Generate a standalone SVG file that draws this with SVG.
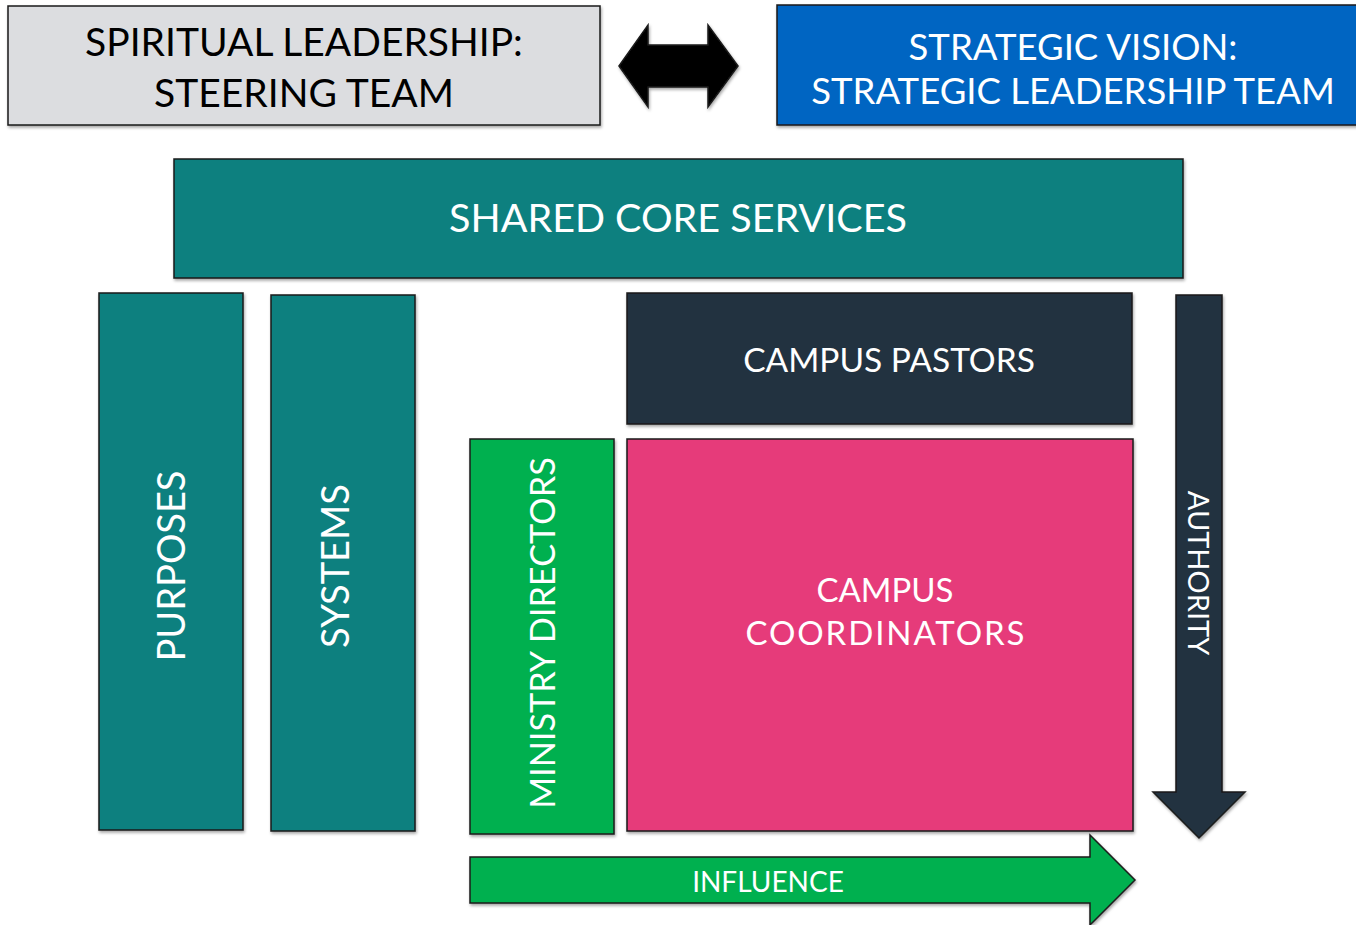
<svg xmlns="http://www.w3.org/2000/svg" width="1356" height="925" viewBox="0 0 1356 925">
<defs>
<filter id="sh" x="-5%" y="-5%" width="110%" height="115%">
<feDropShadow dx="1" dy="2" stdDeviation="1.5" flood-color="#000" flood-opacity="0.35"/>
</filter>
</defs>
<style>
.b{stroke:#1a1a1a;stroke-width:1.5;filter:url(#sh)}
.t{font-family:Lato,"Open Sans",sans-serif;text-anchor:middle;fill:#fff}
.k{fill:#000}
</style>
<rect width="1356" height="925" fill="#fff"/>
<g id="spiritual">
<rect class="b" x="8" y="6" width="592" height="119" fill="#DCDDE0"/>
<text class="t k" x="304" y="56" font-size="39">SPIRITUAL LEADERSHIP:</text>
<text class="t k" x="304" y="107" font-size="39">STEERING TEAM</text>
</g>
<g id="strategic">
<rect class="b" x="777" y="5" width="582" height="120" fill="#0565C2"/>
<text class="t" x="1073" y="60" font-size="36.5">STRATEGIC VISION:</text>
<text class="t" x="1073" y="104" font-size="36.5">STRATEGIC LEADERSHIP TEAM</text>
</g>
<g id="connectors">
<path class="b" d="M619,66 L648,25 L648,45 L708,45 L708,25 L738,66 L708,107 L708,87 L648,87 L648,107 Z" fill="#000"/>
</g>
<g id="shared">
<rect class="b" x="174" y="159" width="1009" height="119" fill="#10807F"/>
<text class="t" x="678" y="232" font-size="39.5">SHARED CORE SERVICES</text>
</g>
<g id="purposes">
<rect class="b" x="99" y="293" width="144" height="537" fill="#10807F"/>
<text class="t" transform="translate(185,566) rotate(-90)" font-size="38">PURPOSES</text>
</g>
<g id="systems">
<rect class="b" x="271" y="295" width="144" height="536" fill="#10807F"/>
<text class="t" transform="translate(349,566) rotate(-90)" font-size="38">SYSTEMS</text>
</g>
<g id="pastors">
<rect class="b" x="627" y="293" width="505" height="131" fill="#22333F"/>
<text class="t" x="889" y="372" font-size="33.5">CAMPUS PASTORS</text>
</g>
<g id="ministry">
<rect class="b" x="470" y="439" width="144" height="395" fill="#00B050"/>
<text class="t" transform="translate(555,633) rotate(-90)" font-size="34.3">MINISTRY DIRECTORS</text>
</g>
<g id="coordinators">
<rect class="b" x="627" y="439" width="506" height="392" fill="#E63B7A"/>
<text class="t" x="885" y="602" font-size="33">CAMPUS</text>
<text class="t" x="885" y="645" font-size="33" textLength="279" lengthAdjust="spacing">COORDINATORS</text>
</g>
<g id="authority">
<path class="b" d="M1176,295 L1222,295 L1222,792 L1245,792 L1199,838 L1153,792 L1176,792 Z" fill="#22333F"/>
<text class="t" transform="translate(1188,573) rotate(90)" font-size="29">AUTHORITY</text>
</g>
<g id="influence">
<path class="b" d="M470,857 L1090,857 L1090,835 L1135,880 L1090,925 L1090,903 L470,903 Z" fill="#00B050"/>
<text class="t" x="768" y="892" font-size="28">INFLUENCE</text>
</g>
</svg>
